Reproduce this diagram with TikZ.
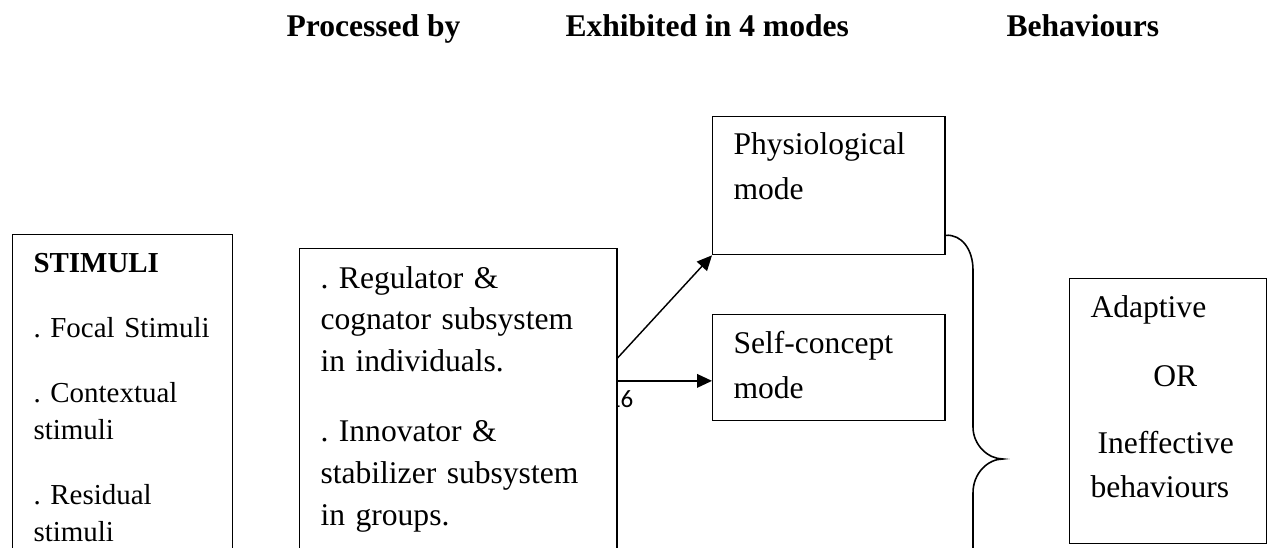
\documentclass[tikz,border=0pt]{standalone}
\usepackage{fontspec}
\setmainfont{Liberation Serif}
\newfontfamily\numfont{Carlito}
\usetikzlibrary{arrows.meta}
\frenchspacing

\begin{document}
\begin{tikzpicture}[x=0.38pt,y=-0.38pt,
    box/.style={draw,line width=0.55pt,fill=white,inner sep=0pt,anchor=north west},
    txt/.style={inner sep=0pt,anchor=base west,text width=4.2cm,align=left},
    head/.style={inner sep=0pt,anchor=base west,font=\bfseries\fontsize{12}{14}\selectfont},
    link/.style={line width=0.55pt,-{Triangle[length=5.7pt,width=5.2pt]}}]
  \path[use as bounding box,clip] (0,0) rectangle (1267,548);

  \node[head] (hproc) at (286,37) {Processed by};
  \node[head] (hmodes) at (565,37) {Exhibited in 4 modes};
  \node[head] (hbeh) at (1006,37) {Behaviours};

  % page number, half hidden under the box
  \node[inner sep=0pt,anchor=base west,font=\numfont\fontsize{9.5}{11}\selectfont]
    (pnum) at (607.5,408) {16};

  \node[box,minimum width=83.6pt,minimum height=139pt] (stim) at (12,234) {};
  \node[box,minimum width=120.5pt,minimum height=133.8pt] (reg) at (299,248) {};
  \node[box,minimum width=88.2pt,minimum height=52.4pt] (phys) at (712,116) {};
  \node[box,minimum width=88.2pt,minimum height=40.3pt] (self) at (712,314) {};
  \node[box,minimum width=74.9pt,minimum height=100.7pt] (beh) at (1069,278) {};

  \node[txt,font=\fontsize{11}{14.1}\selectfont] (stimtxt) at (33,272.7)
    {\textbf{STIMULI}\\[10.6pt]
     . Focal Stimuli\\[10.6pt]
     . Contextual\\ stimuli\\[10.6pt]
     . Residual\\ stimuli};
  \node[txt,font=\fontsize{12}{15.85}\selectfont] (regtxt) at (320,288.3)
    {. Regulator \&\\ cognator subsystem\\ in individuals.\\[10.8pt]
     . Innovator \&\\ stabilizer subsystem\\ in groups.};
  \node[txt,font=\fontsize{12}{16.9}\selectfont] (phystxt) at (733,155)
    {Physiological\\ mode};
  \node[txt,font=\fontsize{12}{16.9}\selectfont] (selftxt) at (733,354)
    {Self-concept\\ mode};
  \node[txt,font=\fontsize{12}{16.7}\selectfont] (behtxt) at (1090,318)
    {Adaptive\\[9.5pt]
     \hspace*{23.9pt}OR\\[8.7pt]
     \hspace*{2.7pt}Ineffective\\ behaviours};

  \coordinate (out1) at ([yshift=-41.8pt]reg.north east);
  \coordinate (out2) at ([yshift=-50.5pt]reg.north east);
  \draw[link] (out1) -- (phys.south west);
  \draw[link] (out2) -- (out2 -| self.west);

  \coordinate (btop) at ([yshift=7.6pt]phys.south east);
  \draw[line width=0.6pt]
    (btop) .. controls (962,234) and (973,250) .. (973,270)
    -- (973,427) .. controls (973,445) and (988,459) .. (1003,459)
    coordinate (btip)
    .. controls (988,459) and (973,473) .. (973,493) -- (973,580);
\end{tikzpicture}
\end{document}
